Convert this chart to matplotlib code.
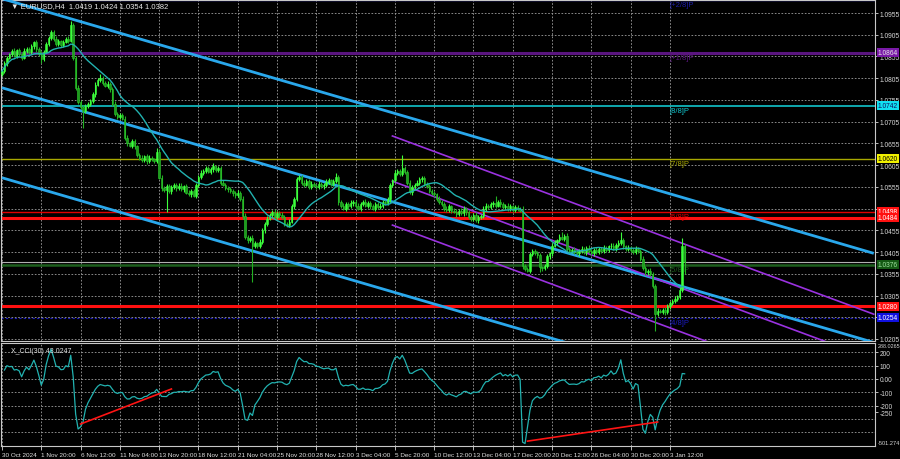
import matplotlib
matplotlib.use("Agg")
import matplotlib.pyplot as plt
import numpy as np
import pandas as pd

plt.rcParams['font.family'] = ['Liberation Sans', 'DejaVu Sans']

# EURUSD H4 closes, in pips above 1.0000
closes = [
    821, 840, 852, 860, 868, 857, 870, 861, 852, 868,
    872, 865, 878, 888, 872, 861, 849, 866, 884, 898,
    911, 896, 884, 890, 882, 889, 895, 891, 928, 852,
    783, 750, 738, 730, 742, 745, 752, 768, 790, 801,
    806, 795, 788, 792, 780, 746, 722, 716, 720, 712,
    668, 655, 650, 660, 648, 628, 622, 617, 625, 614,
    622, 618, 615, 636, 576, 552, 548, 556, 545, 555,
    560, 552, 558, 550, 556, 542, 538, 545, 535, 560,
    578, 588, 592, 598, 590, 596, 602, 594, 598, 565,
    560, 552, 550, 545, 540, 536, 542, 528, 488, 440,
    432, 438, 418, 425, 420, 428, 455, 470, 482, 490,
    498, 486, 495, 490, 485, 470, 468, 475, 510, 528,
    572, 578, 565, 560, 568, 555, 562, 558, 555, 562,
    556, 560, 566, 570, 562, 568, 578, 520, 512, 505,
    516, 510, 518, 520, 512, 505, 515, 520, 512, 518,
    510, 505, 515, 508, 512, 520, 518, 526, 560, 570,
    588, 592, 585, 598, 590, 565, 543, 555, 560, 565,
    572, 575, 562, 558, 545, 540, 538, 528, 520, 516,
    505, 502, 510, 500, 498, 492, 500, 495, 505, 496,
    486, 482, 490, 478, 485, 488, 505, 512, 508, 515,
    518, 512, 520, 515, 508, 512, 505, 510, 502, 508,
    505, 500, 372, 366, 362, 400, 408, 402, 398, 370,
    368, 372, 395, 402, 420, 428, 432, 440, 436, 442,
    412, 408, 410, 405, 402, 408, 412, 405, 415, 408,
    402, 410, 405, 412, 408, 415, 410, 418, 420, 414,
    422, 426, 432, 418, 412, 415, 410, 405, 412, 408,
    390, 368, 358, 362, 355, 328, 262, 270, 268, 272,
    266, 280, 288, 292, 298, 302, 318, 419, 382,
]
first_open = 815

up_wick = [
    6, 4, 5, 3, 4, 6, 3, 5, 4, 6,  4, 5, 6, 3, 4, 5, 6, 3, 5, 4,
    5, 4, 6, 5, 4, 3, 5, 6, 9, 4,  5, 6, 4, 5, 3, 6, 4, 5, 6, 4,
    8, 5, 4, 6, 5, 4, 6, 5, 4, 5,  5, 6, 4, 5, 6, 4, 5, 6, 4, 5,
    6, 5, 4, 8, 5, 6, 4, 5, 6, 4,  5, 4, 6, 5, 4, 6, 5, 4, 6, 5,
    4, 6, 5, 4, 6, 5, 8, 4, 5, 6,  5, 4, 6, 5, 4, 5, 6, 4, 5, 6,
    5, 4, 6, 5, 4, 6, 5, 4, 6, 5,  4, 6, 5, 4, 6, 5, 4, 6, 5, 4,
    6, 5, 4, 6, 5, 4, 6, 5, 4, 6,  5, 4, 6, 5, 4, 6, 8, 5, 4, 6,
    5, 4, 6, 5, 4, 6, 5, 4, 6, 5,  4, 6, 5, 4, 6, 5, 4, 6, 5, 4,
    6, 5, 4, 30, 5, 4, 6, 5, 4, 6, 5, 4, 6, 5, 4, 6, 5, 4, 6, 5,
    4, 6, 5, 4, 6, 5, 4, 6, 5, 4,  6, 5, 4, 6, 5, 4, 6, 5, 4, 6,
    5, 16, 4, 6, 5, 4, 6, 5, 4, 6, 5, 4, 10, 5, 4, 6, 5, 4, 6, 5,
    4, 6, 5, 4, 6, 5, 4, 6, 12, 4, 6, 5, 4, 6, 5, 4, 6, 5, 4, 6,
    5, 4, 6, 5, 4, 6, 5, 4, 6, 5,  4, 6, 20, 5, 4, 6, 5, 4, 6, 5,
    4, 6, 5, 4, 6, 5, 4, 6, 5, 4,  6, 5, 4, 6, 5, 4, 6, 18, 5,
]
dn_wick = [
    5, 4, 6, 3, 5, 4, 6, 5, 4, 3,  6, 5, 4, 5, 6, 4, 8, 5, 4, 6,
    4, 5, 6, 4, 5, 6, 4, 5, 3, 5,  6, 5, 4, 40, 5, 6, 4, 5, 6, 4,
    5, 6, 4, 5, 6, 5, 4, 6, 5, 4,  6, 5, 4, 6, 5, 4, 6, 5, 4, 6,
    5, 4, 6, 5, 4, 6, 5, 50, 4, 6, 5, 6, 4, 5, 6, 4, 5, 6, 4, 5,
    6, 4, 5, 6, 4, 5, 6, 4, 5, 6,  4, 5, 6, 4, 5, 6, 4, 5, 6, 5,
    6, 5, 82, 4, 6, 5, 4, 6, 5, 4, 6, 5, 4, 6, 5, 4, 6, 5, 4, 6,
    5, 4, 6, 5, 4, 6, 5, 4, 6, 5,  4, 6, 5, 4, 6, 5, 4, 6, 5, 4,
    6, 5, 4, 6, 5, 4, 6, 5, 4, 6,  5, 4, 6, 5, 4, 6, 5, 4, 6, 5,
    4, 6, 5, 4, 6, 5, 4, 6, 5, 4,  6, 5, 4, 6, 5, 4, 6, 5, 4, 6,
    5, 4, 6, 5, 4, 6, 5, 4, 6, 5,  4, 6, 5, 4, 6, 5, 4, 6, 5, 4,
    6, 5, 4, 6, 5, 4, 6, 5, 4, 6,  5, 4, 6, 5, 4, 6, 5, 4, 6, 10,
    6, 5, 4, 6, 5, 4, 6, 5, 4, 6,  5, 4, 6, 5, 4, 6, 5, 4, 6, 5,
    4, 6, 5, 4, 6, 5, 4, 6, 5, 4,  6, 5, 4, 6, 5, 4, 6, 5, 4, 6,
    5, 4, 6, 5, 4, 6, 39, 5, 4, 6, 5, 4, 6, 5, 4, 6, 5, 4, 28,
]

date_labels = ["30 Oct 2024", "1 Nov 20:00", "6 Nov 12:00", "11 Nov 04:00",
               "13 Nov 20:00", "18 Nov 12:00", "21 Nov 04:00", "25 Nov 20:00",
               "28 Nov 12:00", "3 Dec 04:00", "5 Dec 20:00", "10 Dec 12:00",
               "13 Dec 04:00", "17 Dec 20:00", "20 Dec 12:00", "26 Dec 04:00",
               "30 Dec 20:00", "3 Jan 12:00"]
bars_per_label = 16

price_ticks = [1.0955, 1.0905, 1.0855, 1.0805, 1.0755, 1.0705, 1.0655, 1.0605,
               1.0555, 1.0505, 1.0455, 1.0405, 1.0355, 1.0305, 1.0255, 1.0205]

# Murray levels
murray_prices = [1.0986, 1.0864, 1.0742, 1.0620, 1.0498, 1.0376, 1.0254]
murray_names = ["[+2/8]P", "[+1/8]P", "[8/8]P", "[7/8]P", "[6/8]P", "[5/8]P", "[4/8]P"]
murray_colors = ["#1c1ca8", "#5a157f", "#12c4cc", "#a8a800", "#e00000", "#1d5e1d", "#1b1bc0"]
murray_widths = [1.0, 2.2, 1.2, 1.0, 1.0, 1.8, 0.8]
box_text = ["#ffffff", "#e8e8e8", "#101060", "#000000", "#ffffff", "#9fe09f", "#ffffff"]
box_face = ["#1c1ca8", "#7a1aa8", "#10e0f0", "#f0f000", "#ff1010", "#145a14", "#1010e0"]
red_levels = [1.0484, 1.0280]
bid_price = 1.0382

# linear regression channels: (bar, price) at both ends, plus parallel offsets
blue_channel = [(0, 1.0988), (355, 1.0402)]
blue_offsets = [0.0, -0.0205, -0.0412]
purple_channel = [(159, 1.0672), (355, 1.0262)]
purple_offsets = [0.0, -0.0104, -0.0205]

# CCI divergence lines
cci_lines = [[(32, -337), (69, -75)], [(214, -465), (267, -322)]]
cci_ticks = [200, 100, 0, -100, -200, -250]
cci_tick_labels = ["200", "100", "0.00", "-100", "-200", "-250"]
cci_grid = [200, 100, 0, -100, -200, -300, -400]

c = np.array(closes) / 10000 + 1.0
o = np.r_[first_open / 10000 + 1.0, c[:-1]]
h = np.maximum(o, c) + np.array(up_wick) / 10000
l = np.minimum(o, c) - np.array(dn_wick) / 10000
x = np.arange(len(c))

df = pd.DataFrame({'o': o, 'h': h, 'l': l, 'c': c})
ma = df['c'].rolling(20, min_periods=1).mean()
tp = (df['h'] + df['l'] + df['c']) / 3
sma = tp.rolling(30, min_periods=1).mean()
md = tp.rolling(30, min_periods=1).apply(lambda v: np.mean(np.abs(v - v.mean())), raw=True)
cci = (tp - sma) / (0.015 * md)

fig = plt.figure(figsize=(9, 4.6), dpi=100, facecolor='black')
ax = fig.add_axes([0.0011, 0.2565, 0.9711, 0.7413], facecolor='black')
ax2 = fig.add_axes([0.0011, 0.0283, 0.9711, 0.2239], facecolor='black', sharex=ax)

grid_kw = dict(color='#a0a0a0', linestyle=(0, (2, 2)), linewidth=0.6)
for a in (ax, ax2):
    for s in a.spines.values():
        s.set_color('#c8c8c8')
        s.set_linewidth(0.8)
    a.tick_params(colors='#d8d8d8', labelsize=4.8, length=2, width=0.6, pad=1.5)
    a.yaxis.tick_right()

ax.set_xlim(-0.4, 355.5)
ax.set_ylim(1.02003, 1.09849)
ax.set_yticks(price_ticks)
ax.set_yticklabels([f"{p:.4f}" for p in price_ticks])
ax.grid(True, **grid_kw)
ax.set_axisbelow(True)
plt.setp(ax.get_xticklabels(), visible=False)
ax.tick_params(axis='x', length=0)

# horizontal levels
for p, col, lw in zip(murray_prices, murray_colors, murray_widths):
    ls = (0, (2, 2)) if p == 1.0254 else '-'
    ax.axhline(p, color=col, lw=lw, ls=ls, zorder=1)
for p in red_levels:
    ax.axhline(p, color='#ff1010', lw=2.2, zorder=1)
ax.axhline(bid_price, color='#b0b0b0', lw=0.8, zorder=1)

for p, name, col in zip(murray_prices, murray_names, murray_colors):
    ax.text(272, p - 0.0003, name, color=col, fontsize=5.5, va='top', ha='left', zorder=2)

# regression channels
(bx0, by0), (bx1, by1) = blue_channel
for off in blue_offsets:
    ax.plot([bx0, bx1], [by0 + off, by1 + off], color='#2aa8ec', lw=2.0, zorder=3,
            solid_capstyle='butt')
(px0, py0), (px1, py1) = purple_channel
for off in purple_offsets:
    ax.plot([px0, px1], [py0 + off, py1 + off], color='#9a32e0', lw=1.2, zorder=3)

# candles
bull = c >= o
ax.vlines(x, l, h, color=np.where(bull, '#3cff3c', '#22b022'), lw=0.8, zorder=4)
ax.bar(x[bull], (c - o)[bull], bottom=o[bull], width=0.6, color='#3cff3c',
       edgecolor='#3cff3c', lw=0.4, zorder=5)
ax.bar(x[~bull], (c - o)[~bull], bottom=o[~bull], width=0.6, color='#1f9a1f',
       edgecolor='#2ccc2c', lw=0.4, zorder=5)
ax.plot(x, ma, color='#22b2b0', lw=1.0, zorder=6)

ax.text(0.012, 0.993, "\u25bc EURUSD,H4  1.0419 1.0424 1.0354 1.0382", transform=ax.transAxes,
        color='#e8e8e8', fontsize=5.5, va='top', ha='left', zorder=10)

# right-side price boxes
yt = ax.get_yaxis_transform()
box_prices = murray_prices[1:] + red_levels
box_faces = box_face[1:] + ['#ff1010', '#ff1010']
box_texts = box_text[1:] + ['#ffffff', '#ffffff']
for p, fc, tc in zip(box_prices, box_faces, box_texts):
    ax.text(1.003, p, f"{p:.4f}", transform=yt, color=tc, fontsize=4.8, va='center', ha='left',
            bbox=dict(boxstyle='square,pad=0.15', fc=fc, ec='none'), clip_on=False, zorder=20)

# CCI panel
ax2.set_ylim(-501.274, 269)
ax2.set_yticks(cci_ticks)
ax2.set_yticklabels(cci_tick_labels)
for g in cci_grid:
    ax2.axhline(g, zorder=0, **grid_kw)
ax2.grid(True, axis='x', **grid_kw)
ax2.plot(x, cci, color='#22b2b0', lw=0.9, zorder=3)
for seg in cci_lines:
    ax2.plot([seg[0][0], seg[1][0]], [seg[0][1], seg[1][1]], color='#ff1414', lw=1.2, zorder=4)
ax2.text(0.012, 0.96, "X_CCI(30) 43.0247", transform=ax2.transAxes, color='#e0e0e0',
         fontsize=5, va='top', ha='left')
ax2.text(1.003, 0.975, "288.0265", transform=ax2.transAxes, color='#d8d8d8', fontsize=3.9,
         va='center', ha='left', clip_on=False)
ax2.text(1.003, 0.035, "-501.274", transform=ax2.transAxes, color='#d8d8d8', fontsize=4.1,
         va='center', ha='left', clip_on=False)

tick_pos = [i * bars_per_label for i in range(len(date_labels))]
ax2.set_xticks(tick_pos)
ax2.set_xticklabels(date_labels, ha='left', fontsize=4.6, color='#e0e0e0')
ax2.tick_params(axis='x', length=3, pad=1)

fig.savefig('out.png', dpi=100, facecolor='black')
